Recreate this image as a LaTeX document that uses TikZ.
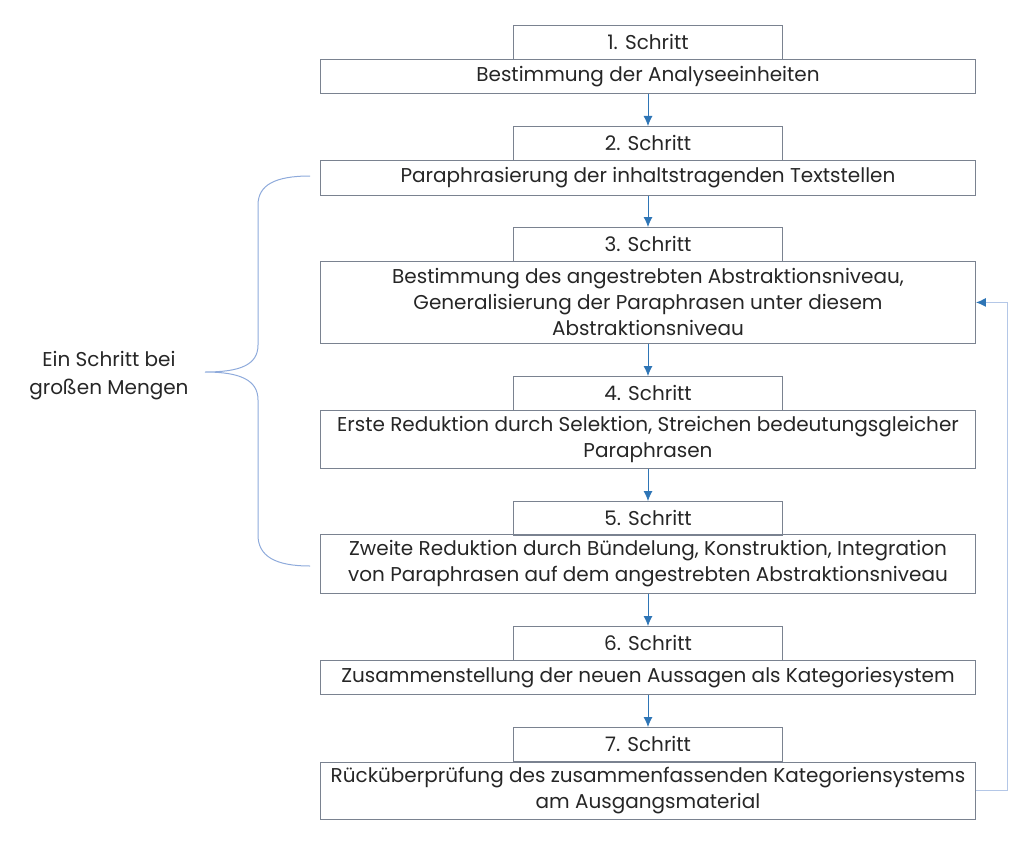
\documentclass[tikz,border=0pt]{standalone}
\usepackage{fontspec}
\setmainfont{Poppins}
\usetikzlibrary{positioning, calc, arrows.meta}

\definecolor{boxline}{HTML}{7A8290}
\definecolor{flowblue}{HTML}{2E75B6}
\definecolor{bracecol}{HTML}{8EAADB}
\definecolor{backcol}{HTML}{B4C7E7}
\definecolor{txt}{HTML}{262626}

\tikzset{
	head/.style={draw=boxline, line width=0.9pt, anchor=north, minimum width=269, minimum height=34, inner sep=0pt, text=txt, font=\fontsize{20}{26}\selectfont},
	box/.style={draw=boxline, line width=0.9pt, anchor=north, minimum width=655, inner sep=0pt, align=center, text=txt, font=\fontsize{20}{26}\selectfont},
	flow/.style={draw=flowblue, line width=0.8pt, -{Latex[length=10pt,width=9pt]}},
	back/.style={draw=backcol, line width=1pt, -{Latex[length=10pt,width=9pt,color=flowblue]}},
	bracket/.style={draw=bracecol, line width=1pt}
}

\begin{document}
\begin{tikzpicture}[x=1pt, y=-1pt]
			\useasboundingbox (0,0) rectangle (1024,853);
			
			\node[head] (s1) at (648,25) {1. Schritt};
			\node[box, minimum height=34] (b1) at (648,59) {Bestimmung der Analyseeinheiten};
			\node[head] (s2) at (648,126) {2. Schritt};
			\node[box, minimum height=35] (b2) at (648,160) {Paraphrasierung der inhaltstragenden Textstellen};
			\node[head] (s3) at (648,227) {3. Schritt};
			\node[box, minimum height=82] (b3) at (648,261) {Bestimmung des angestrebten Abstraktionsniveau,\\Generalisierung der Paraphrasen unter diesem\\Abstraktionsniveau};
			\node[head] (s4) at (648,376) {4. Schritt};
			\node[box, minimum height=58] (b4) at (648,410) {Erste Reduktion durch Selektion, Streichen bedeutungsgleicher\\Paraphrasen};
			\node[head] (s5) at (648,501) {5. Schritt};
			\node[box, minimum height=59] (b5) at (648,534) {Zweite Reduktion durch Bündelung, Konstruktion, Integration\\von Paraphrasen auf dem angestrebten Abstraktionsniveau};
			\node[head] (s6) at (648,626) {6. Schritt};
			\node[box, minimum height=34] (b6) at (648,660) {Zusammenstellung der neuen Aussagen als Kategoriesystem};
			\node[head] (s7) at (648,727) {7. Schritt};
			\node[box, minimum height=57] (b7) at (648,762) {Rücküberprüfung des zusammenfassenden Kategoriensystems\\am Ausgangsmaterial};
			
			\draw[flow] (b1) -- (s2);
			\draw[flow] (b2) -- (s3);
			\draw[flow] (b3) -- (s4);
			\draw[flow] (b4) -- (s5);
			\draw[flow] (b5) -- (s6);
			\draw[flow] (b6) -- (s7);
			
			% Rueckkopplung
			\draw[back] (b7.east) -- ++(32,0) |- (b3.east);
			
			% Klammer links
			\node[align=center, text=txt, font=\fontsize{20}{28}\selectfont] (note) at (109,376) {Ein Schritt bei\\großen Mengen};
			\draw[bracket] (310,176) .. controls (275,176) and (258,185) .. (258,205) -- (258,345) .. controls (258,365) and (240,372) .. (205,372) .. controls (240,372) and (258,380) .. (258,400) -- (258,535) .. controls (258,556) and (275,566) .. (310,566);
		\end{tikzpicture}
\end{document}
